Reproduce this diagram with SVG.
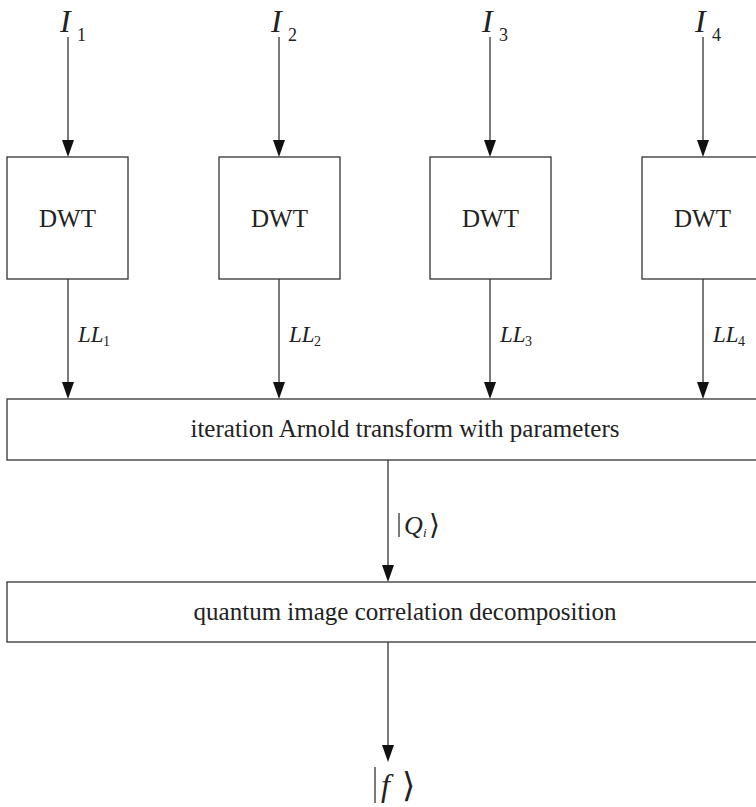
<svg xmlns="http://www.w3.org/2000/svg" width="756" height="807" viewBox="0 0 756 807">
<style>
.box{fill:#fff;stroke:#333;stroke-width:1.3}
.ln{stroke:#333;stroke-width:1.3;fill:none}
.t{font-family:"Liberation Serif","Times New Roman",serif;fill:#222;text-anchor:middle}
.it{font-family:"Liberation Serif","Times New Roman",serif;font-style:italic;fill:#222}
.rm{font-family:"Liberation Serif","DejaVu Serif",serif;fill:#222}
.ah{fill:#111}
</style>
<g id="connectors">
<path class="ln" d="M68,37 V150"/>
<path class="ln" d="M279,37 V150"/>
<path class="ln" d="M490,37 V150"/>
<path class="ln" d="M703,37 V150"/>
<path class="ln" d="M68,279 V392"/>
<path class="ln" d="M279,279 V392"/>
<path class="ln" d="M490,279 V392"/>
<path class="ln" d="M703,279 V392"/>
<path class="ln" d="M388,460 V575"/>
<path class="ln" d="M388,642 V755"/>
<path class="ah" d="M62,140 L74,140 L68,157 Z"/>
<path class="ah" d="M273,140 L285,140 L279,157 Z"/>
<path class="ah" d="M484,140 L496,140 L490,157 Z"/>
<path class="ah" d="M697,140 L709,140 L703,157 Z"/>
<path class="ah" d="M62,382 L74,382 L68,399 Z"/>
<path class="ah" d="M273,382 L285,382 L279,399 Z"/>
<path class="ah" d="M484,382 L496,382 L490,399 Z"/>
<path class="ah" d="M697,382 L709,382 L703,399 Z"/>
<path class="ah" d="M382,565 L394,565 L388,582 Z"/>
<path class="ah" d="M382,745 L394,745 L388,762 Z"/>
</g>
<g id="in1"><text class="it" x="60" y="32" font-size="32">I</text><text class="rm" x="77" y="41" font-size="18">1</text></g>
<g id="in2"><text class="it" x="271" y="32" font-size="32">I</text><text class="rm" x="288" y="41" font-size="18">2</text></g>
<g id="in3"><text class="it" x="482" y="32" font-size="32">I</text><text class="rm" x="499" y="41" font-size="18">3</text></g>
<g id="in4"><text class="it" x="695" y="32" font-size="32">I</text><text class="rm" x="712" y="41" font-size="18">4</text></g>
<g id="dwt1"><rect class="box" x="7" y="157" width="121" height="122"/><text class="t" x="67.5" y="227" font-size="25">DWT</text></g>
<g id="dwt2"><rect class="box" x="219" y="157" width="121" height="122"/><text class="t" x="279.5" y="227" font-size="25">DWT</text></g>
<g id="dwt3"><rect class="box" x="430" y="157" width="121" height="122"/><text class="t" x="490.5" y="227" font-size="25">DWT</text></g>
<g id="dwt4"><rect class="box" x="642" y="157" width="121" height="122"/><text class="t" x="702.5" y="227" font-size="25">DWT</text></g>
<g id="ll1"><text class="it" x="78" y="342" font-size="23">LL</text><text class="rm" x="103" y="346" font-size="14">1</text></g>
<g id="ll2"><text class="it" x="289" y="342" font-size="23">LL</text><text class="rm" x="314" y="346" font-size="14">2</text></g>
<g id="ll3"><text class="it" x="500" y="342" font-size="23">LL</text><text class="rm" x="525" y="346" font-size="14">3</text></g>
<g id="ll4"><text class="it" x="713" y="342" font-size="23">LL</text><text class="rm" x="738" y="346" font-size="14">4</text></g>
<g id="arnold"><rect class="box" x="7" y="399" width="800" height="61"/><text class="t" x="405" y="437" font-size="25">iteration Arnold transform with parameters</text></g>
<g id="qlabel"><path class="ln" d="M399,513 V537"/><text class="it" x="404" y="534" font-size="26">Q</text><text class="it" x="423" y="537" font-size="13">i</text><text class="rm" x="429" y="534" font-size="28">⟩</text></g>
<g id="qicd"><rect class="box" x="7" y="582" width="800" height="60"/><text class="t" x="405" y="620" font-size="25">quantum image correlation decomposition</text></g>
<g id="out"><path class="ln" d="M375,767 V803"/><text class="it" x="381" y="796" font-size="32">f</text><text class="rm" x="402" y="797" font-size="34">⟩</text></g>
</svg>
